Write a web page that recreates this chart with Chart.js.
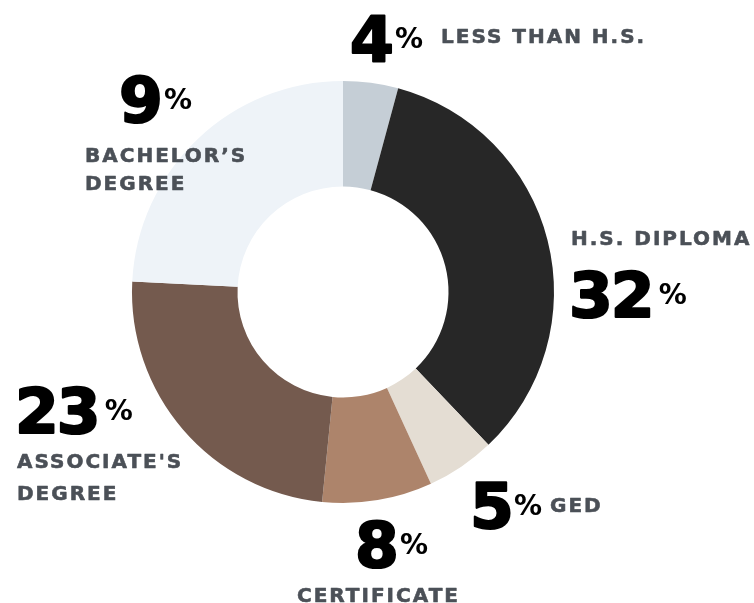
<!DOCTYPE html>
<html>
<head>
<meta charset="utf-8">
<script src="https://cdn.jsdelivr.net/npm/chart.js@4"></script>
<style>
  html, body { margin: 0; padding: 0; background: #fff; }
  #wrap { width: 754px; height: 603px; }
</style>
</head>
<body>
<div id="wrap"><canvas id="eduChart"></canvas></div>
<script>
// Education levels
const categories = ['Less than H.S.', 'H.S. diploma', 'GED', 'Certificate', "Associate's degree", "Bachelor's degree"];
// slice sizes as drawn in the picture
const sliceValues = [4, 32, 5, 8, 23, 23];
// percentages printed next to each slice
const labelPercents = [4, 32, 5, 8, 23, 9];
// printed category names (one entry per line)
const labelLines = [
    ['LESS THAN H.S.'],
    ['H.S. DIPLOMA'],
    ['GED'],
    ['CERTIFICATE'],
    ["ASSOCIATE'S", 'DEGREE'],
    ['BACHELOR\u2019S', 'DEGREE']
];
const sliceColors = ['#c5ced6', '#272727', '#e4ddd3', '#ad846b', '#745a4e', '#eef3f8'];

const numFont = 'bold 63px "DejaVu Sans"';
const pctFont = 'bold 28px "DejaVu Sans"';
const capFont = 'bold 20px "DejaVu Sans"';
const capColor = '#4b5057';

// label block placement, relative to the doughnut centre
const labelLayout = [
    { num: [9, -231],   name: [98, -249],  lh: 30, gap: 4 },
    { num: [230, 25],   name: [228, -47],  lh: 30, gap: 9 },
    { num: [131, 236],  name: [207, 220],  lh: 30, gap: 4 },
    { num: [15, 275],   name: [-46, 310],  lh: 30, gap: 5 },
    { num: [-324, 141], name: [-326, 176], lh: 32, gap: 9 },
    { num: [-221, -170], name: [-258, -130], lh: 28, gap: 5 }
];

const labelPlugin = {
    id: 'bigLabels',
    afterDraw(chart) {
        const ctx = chart.ctx;
        const arc = chart.getDatasetMeta(0).data[0];
        const cx = arc.x, cy = arc.y;
        ctx.save();
        ctx.textBaseline = 'alphabetic';
        ctx.textAlign = 'left';
        ctx.lineJoin = 'round';
        labelLayout.forEach((l, i) => {
            const num = String(labelPercents[i]);
            // big number, ink left edge at the given x
            ctx.font = numFont;
            ctx.letterSpacing = '-2px';
            const m = ctx.measureText(num);
            const nx = cx + l.num[0] + m.actualBoundingBoxLeft;
            const ny = cy + l.num[1];
            ctx.fillStyle = '#000';
            ctx.strokeStyle = '#000';
            ctx.lineWidth = 2.2;
            ctx.fillText(num, nx, ny);
            ctx.strokeText(num, nx, ny);
            const right = nx + m.actualBoundingBoxRight;
            // small percent sign
            ctx.font = pctFont;
            ctx.letterSpacing = '0px';
            ctx.fillText('%', right + l.gap, ny - 13);
            // category name
            ctx.font = capFont;
            ctx.fillStyle = capColor;
            ctx.strokeStyle = capColor;
            ctx.lineWidth = 0.6;
            ctx.letterSpacing = '2px';
            labelLines[i].forEach((line, k) => {
                const tx = cx + l.name[0], ty = cy + l.name[1] + k * l.lh;
                ctx.fillText(line, tx, ty);
                ctx.strokeText(line, tx, ty);
            });
        });
        ctx.restore();
    }
};

new Chart(document.getElementById('eduChart'), {
    type: 'doughnut',
    data: {
        labels: categories,
        datasets: [{
            data: sliceValues,
            backgroundColor: sliceColors,
            borderWidth: 0,
            hoverOffset: 0
        }]
    },
    options: {
        responsive: true,
        maintainAspectRatio: false,
        animation: false,
        cutout: '50%',
        layout: {
            padding: { left: 132, right: 200, top: 81, bottom: 100 }
        },
        plugins: {
            legend: { display: false },
            tooltip: { enabled: false }
        }
    },
    plugins: [labelPlugin]
});
</script>
</body>
</html>
